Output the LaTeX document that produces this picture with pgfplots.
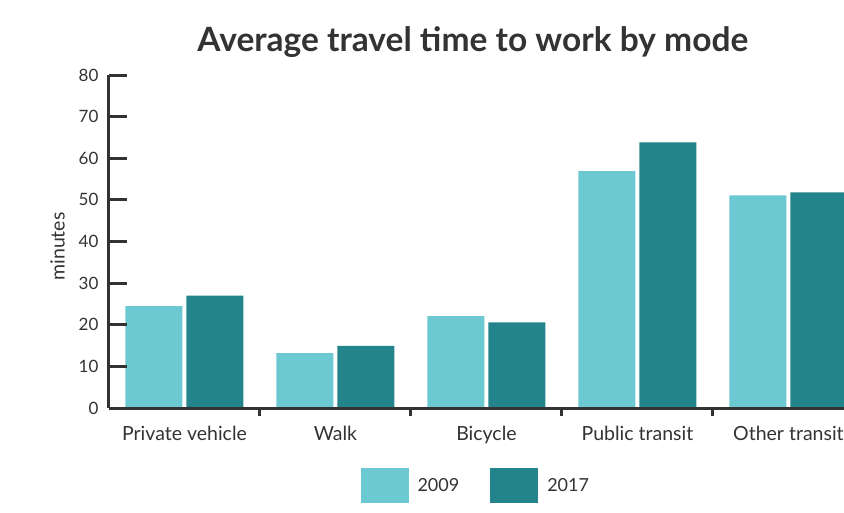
\documentclass[border=0pt]{standalone}
\usepackage{fontspec}
\setmainfont{Lato}
\usepackage{pgfplots}
\pgfplotsset{compat=1.18}
\definecolor{c2009}{HTML}{6DC9D1}
\definecolor{c2017}{HTML}{23858B}
\definecolor{axisgray}{HTML}{333333}
\newcommand\tickfont{\fontsize{17}{20}\selectfont}
\newcommand\catfont{\fontsize{19.5}{23}\selectfont}
\pgfplotsset{swatch/.style={legend image code/.code={\fill[##1] (0pt,-17.5pt) rectangle (48pt,17.5pt);}}}
\begin{document}
\begin{tikzpicture}
\begin{axis}[
    scale only axis, width=735pt, height=333pt,
    xmin=-0.5, xmax=4.368, ymin=0, ymax=80,
    axis x line=bottom, axis y line=left,
    axis line style={-, line width=3pt, axisgray},
    axis on top,
    tick align=inside,
    major tick length=18pt,
    tick style={line width=3pt, axisgray},
    ytick={0,10,...,80},
    yticklabel style={font=\tickfont, text=axisgray, xshift=-7pt},
    /pgf/number format/assume math mode=true,
    xtick={0.5,1.5,2.5,3.5}, xticklabels={},
    xtick style={/pgfplots/major tick length=8pt},
    extra x ticks={0,1,2,3,4},
    extra x tick labels={Private vehicle,Walk,Bicycle,Public transit,Other transit},
    extra x tick style={tick style={draw=none}, xticklabel style={font=\catfont, text=axisgray, yshift=3pt}},
    ylabel={minutes},
    every axis y label/.style={at={(axis description cs:-0.07,0.485)}, rotate=90, anchor=center, font=\catfont, text=axisgray},
    title={Average travel time to work by mode},
    title style={at={(axis description cs:0.495,1.053)}, anchor=base, text=axisgray, font=\fontsize{33.5}{38}\selectfont\bfseries},
    ybar, bar width=57pt,
    legend columns=2,
    legend style={draw=none, fill=none, at={(axis description cs:0.499,-0.233)}, anchor=center,
        font=\fontsize{18}{21}\selectfont, text=axisgray,
        /tikz/every odd column/.append style={column sep=7pt},
        /tikz/every even column/.append style={column sep=29pt}},
]
\addplot[fill=c2009, draw=none, bar shift=-30.5pt, swatch] coordinates {
    (0,24.5) (1,13.2) (2,22.1) (3,56.9) (4,51.1)};
\addlegendentry{2009}
\addplot[fill=c2017, draw=none, bar shift=30.5pt, swatch] coordinates {
    (0,27.0) (1,14.9) (2,20.6) (3,63.8) (4,51.8)};
\addlegendentry{2017}
\end{axis}
\pgfresetboundingbox
\path[use as bounding box] (-109pt,-104pt) rectangle (735pt,408pt);
\end{tikzpicture}
\end{document}
